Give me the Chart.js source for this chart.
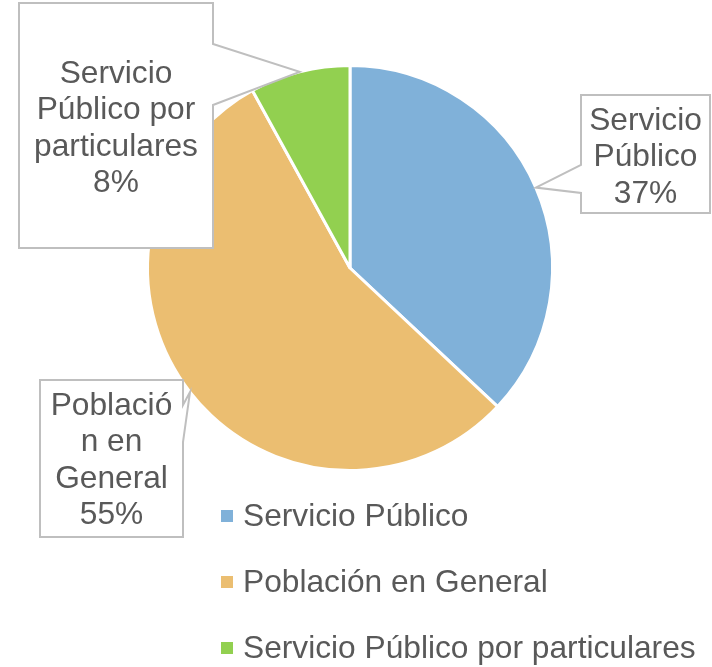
<!DOCTYPE html>
<html>
<head>
<meta charset="utf-8">
<script src="https://cdn.jsdelivr.net/npm/chart.js@4"></script>
<style>
  body { margin: 0; background: #fff; }
  #wrap { width: 712px; height: 667px; position: relative; }
</style>
</head>
<body>
<div id="wrap"><canvas id="pieChart"></canvas></div>
<script>
  // datos del grafico
  const categorias = ["Servicio Público", "Población en General", "Servicio Público por particulares"];
  const valores = [37, 55, 8];
  const colores = ["#80B1D9", "#EBBE71", "#92D050"];

  const FONT = "31.7px 'Liberation Sans', Arial, sans-serif";
  const TEXT_COLOR = "#595959";

  // cajas de etiqueta (lineas partidas como en el original)
  const callouts = [
    { lines: ["Servicio", "Público"], box: [581, 95, 710, 213], side: "left", notch: [165, 193], baseline: 130 },
    { lines: ["Població", "n en", "General"], box: [40, 380, 183, 537], side: "right", notch: [405, 442], baseline: 415 },
    { lines: ["Servicio", "Público por", "particulares"], box: [19, 3, 213, 248], side: "right", notch: [44, 105], baseline: 83 },
  ];

  const calloutPlugin = {
    id: "callouts",
    afterDatasetsDraw(chart) {
      const ctx = chart.ctx;
      const meta = chart.getDatasetMeta(0);
      const total = valores.reduce((a, b) => a + b, 0);
      ctx.save();
      meta.data.forEach((arc, i) => {
        const c = callouts[i];
        const mid = (arc.startAngle + arc.endAngle) / 2;
        const tx = arc.x + Math.cos(mid) * arc.outerRadius;
        const ty = arc.y + Math.sin(mid) * arc.outerRadius;
        const [x0, y0, x1, y1] = c.box;
        ctx.beginPath();
        ctx.moveTo(x0, y0);
        ctx.lineTo(x1, y0);
        if (c.side === "right") {
          ctx.lineTo(x1, c.notch[0]);
          ctx.lineTo(tx, ty);
          ctx.lineTo(x1, c.notch[1]);
        }
        ctx.lineTo(x1, y1);
        ctx.lineTo(x0, y1);
        if (c.side === "left") {
          ctx.lineTo(x0, c.notch[1]);
          ctx.lineTo(tx, ty);
          ctx.lineTo(x0, c.notch[0]);
        }
        ctx.closePath();
        ctx.fillStyle = "#fff";
        ctx.fill();
        ctx.strokeStyle = "#BFBFBF";
        ctx.lineWidth = 2;
        ctx.stroke();

        const pct = Math.round(valores[i] / total * 100) + "%";
        const lines = c.lines.concat([pct]);
        ctx.font = FONT;
        ctx.fillStyle = TEXT_COLOR;
        ctx.textAlign = "center";
        ctx.textBaseline = "alphabetic";
        const cx = (x0 + x1) / 2;
        lines.forEach((t, k) => ctx.fillText(t, cx, c.baseline + k * 36.3));
      });
      ctx.restore();
    },
  };

  const legendPlugin = {
    id: "leyenda",
    afterDraw(chart) {
      const ctx = chart.ctx;
      ctx.save();
      ctx.font = FONT;
      ctx.textAlign = "left";
      ctx.textBaseline = "alphabetic";
      categorias.forEach((lab, i) => {
        const base = 526 + i * 66;
        ctx.fillStyle = colores[i];
        ctx.fillRect(221, base - 16, 12, 12);
        ctx.fillStyle = TEXT_COLOR;
        ctx.fillText(lab, 243, base);
      });
      ctx.restore();
    },
  };

  new Chart(document.getElementById("pieChart"), {
    type: "pie",
    data: {
      labels: categorias,
      datasets: [{
        data: valores,
        backgroundColor: colores,
        borderColor: "#fff",
        borderWidth: 3,
      }],
    },
    options: {
      responsive: true,
      maintainAspectRatio: false,
      animation: false,
      layout: { padding: { left: 146, right: 158, top: 64, bottom: 195 } },
      plugins: {
        legend: { display: false },
        tooltip: { enabled: false },
      },
    },
    plugins: [calloutPlugin, legendPlugin],
  });
</script>
</body>
</html>
